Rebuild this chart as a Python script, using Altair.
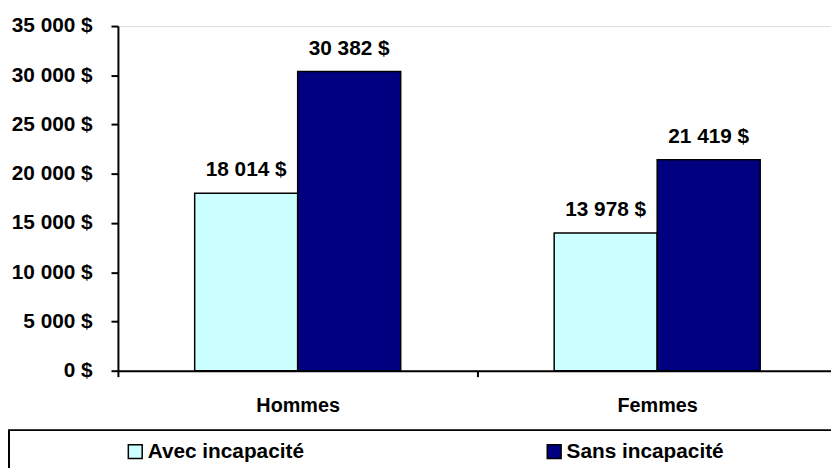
import altair as alt
import pandas as pd

categories = ["Hommes", "Femmes"]
series = ["Avec incapacité", "Sans incapacité"]
avec = [18014, 13978]
sans = [30382, 21419]
y_ticks = [0, 5000, 10000, 15000, 20000, 25000, 30000, 35000]

rows = []
for i, c in enumerate(categories):
    for s, v in zip(series, [avec[i], sans[i]]):
        rows.append({"cat": c, "serie": s, "val": v,
                     "lab": f"{v:,}".replace(",", " ") + " $"})
df = pd.DataFrame(rows)

FONT = "Liberation Sans"

x = alt.X("cat:N", sort=categories, title=None,
          scale=alt.Scale(paddingInner=0, paddingOuter=0),
          axis=alt.Axis(labelAngle=0, tickBand="extent", domainColor="black",
                        domainWidth=2, tickColor="black", tickWidth=2, tickSize=6,
                        labelFont=FONT, labelFontSize=20, labelFontWeight="bold",
                        labelColor="black", labelPadding=19))
xo = alt.XOffset("serie:N", sort=series,
                 scale=alt.Scale(paddingInner=0, paddingOuter=0.745))
y = alt.Y("val:Q", title=None,
          scale=alt.Scale(domain=[0, 35000], nice=False),
          axis=alt.Axis(values=y_ticks, grid=False, domainColor="black",
                        domainWidth=2, tickColor="black", tickWidth=2, tickSize=7,
                        labelFont=FONT, labelFontSize=21, labelFontWeight="bold",
                        labelColor="black", labelPadding=19,
                        labelExpr="replace(format(datum.value, ',d'), ',', ' ') + ' $'"))

color = alt.Color("serie:N", sort=series, title=None,
                  scale=alt.Scale(domain=series, range=["#CCFFFF", "#000080"]),
                  legend=alt.Legend(orient="none", legendX=7, legendY=419,
                                    direction="horizontal", columns=2,
                                    columnPadding=242, symbolType="square",
                                    symbolSize=196, symbolStrokeColor="black",
                                    symbolStrokeWidth=1.5, symbolOpacity=1,
                                    labelFont=FONT, labelFontSize=21,
                                    labelFontWeight="bold", labelColor="black",
                                    labelOffset=2, labelLimit=300, padding=0))

base = alt.Chart(df)
bars = base.mark_bar(stroke="black", strokeWidth=1.5, opacity=1).encode(
    x=x, xOffset=xo, y=y, color=color)
texts = base.mark_text(font=FONT, fontSize=21, fontWeight="bold", color="black",
                       baseline="alphabetic", dy=-17).encode(
    x=x, xOffset=xo, y=y, text="lab:N")

frame = alt.Chart(pd.DataFrame({"k": [0]})).mark_rect(
    fillOpacity=0, stroke="black", strokeWidth=2).encode(
    x=alt.value(-110), x2=alt.value(800), y=alt.value(408), y2=alt.value(470))

chart = alt.layer(bars, texts, frame).properties(
    width=726, height=348,
    autosize=alt.AutoSizeParams(type="none"),
    padding={"left": 111, "top": 16, "right": -6, "bottom": 96},
).configure_view(stroke=None).configure(background="white")

chart.save("out.html", embed_options={"renderer": "svg", "actions": False})
